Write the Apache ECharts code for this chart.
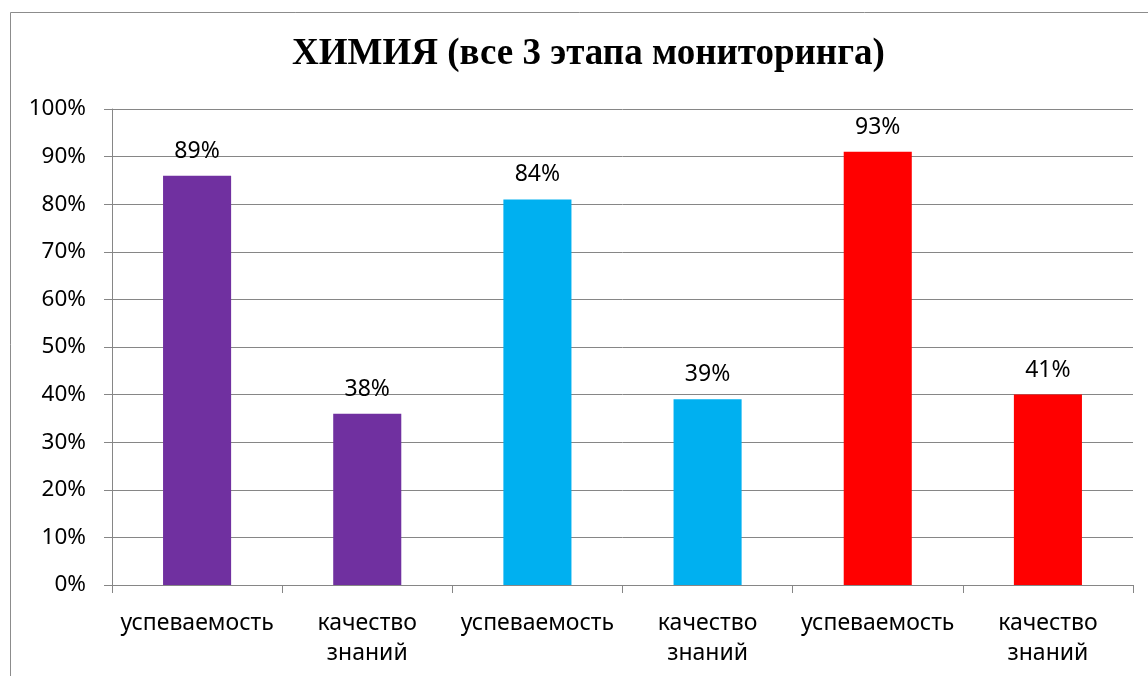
<!DOCTYPE html>
<html>
<head>
<meta charset="utf-8">
<script src="https://cdn.jsdelivr.net/npm/echarts@6/dist/echarts.min.js"></script>
<style>
  html, body { margin: 0; padding: 0; background: #fff; }
  #view { width: 1148px; height: 676px; }
</style>
</head>
<body>
<div id="view"></div>
<script>
// data
let categories = ["успеваемость", "качество\nзнаний", "успеваемость", "качество\nзнаний", "успеваемость", "качество\nзнаний"];
let barValues = [86, 36, 81, 39, 91, 40];
let barLabels = ["89%", "38%", "84%", "39%", "93%", "41%"];
let barColors = ["#7030A0", "#7030A0", "#00B0F0", "#00B0F0", "#FF0000", "#FF0000"];

let font = "'Noto Sans', sans-serif";
let myChart = echarts.init(document.getElementById("view"));

let option = {
  backgroundColor: "#fff",
  animation: false,
  title: {
    text: "ХИМИЯ (все 3 этапа мониторинга)",
    left: 287,
    top: 31,
    textStyle: {
      fontFamily: "'Liberation Serif', serif",
      fontWeight: "bold",
      fontSize: 37,
      color: "#000",
    },
  },
  graphic: [
    {
      type: "rect",
      shape: { x: 10.5, y: 12.5, width: 1200, height: 700 },
      style: { fill: null, stroke: "#8c8c8c", lineWidth: 1 },
      silent: true,
    },
  ],
  grid: {
    left: 112,
    right: 15,
    top: 109,
    bottom: 91,
  },
  xAxis: {
    type: "category",
    data: categories,
    axisLine: { lineStyle: { color: "#868686" } },
    axisTick: { show: true, length: 8, lineStyle: { color: "#868686" } },
    axisLabel: {
      color: "#000",
      fontFamily: font,
      fontSize: 23,
      lineHeight: 30,
      margin: 23,
      interval: 0,
    },
  },
  yAxis: {
    type: "value",
    min: 0,
    max: 100,
    interval: 10,
    axisLine: { show: true, lineStyle: { color: "#868686" } },
    axisTick: { show: true, length: 8, lineStyle: { color: "#868686" } },
    splitLine: { lineStyle: { color: "#868686" } },
    axisLabel: {
      color: "#000",
      fontFamily: font,
      fontSize: 22.5,
      margin: 26,
      formatter: "{value}%",
    },
  },
  series: [
    {
      type: "bar",
      data: barValues,
      barWidth: "40%",
      itemStyle: {
        color: (p) => barColors[p.dataIndex],
      },
      label: {
        show: true,
        position: "top",
        distance: 13,
        color: "#000",
        fontFamily: font,
        fontSize: 23,
        formatter: (p) => barLabels[p.dataIndex],
      },
    },
  ],
};
myChart.setOption(option);
</script>
</body>
</html>
